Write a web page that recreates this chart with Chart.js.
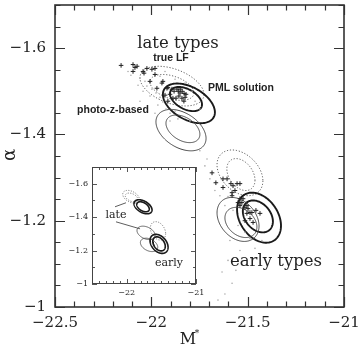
<!DOCTYPE html>
<html><head><meta charset="utf-8">
<script src="https://cdn.jsdelivr.net/npm/chart.js@4"></script>
<style>
html,body{margin:0;padding:0;background:#fff;}
#wrap{position:relative;width:360px;height:347px;overflow:hidden;}
#main{position:absolute;left:0;top:0;}
#inset{position:absolute;left:60px;top:158px;}
</style></head><body>
<div id="wrap"><canvas id="main" width="360" height="347"></canvas><canvas id="inset" width="145" height="142"></canvas></div>
<script>
// ---------- main panel: axis ticks ----------
const mainXTicks = [-22.5,-22.4,-22.3,-22.2,-22.1,-22.0,-21.9,-21.8,-21.7,-21.6,-21.5,-21.4,-21.3,-21.2,-21.1,-21.0];
const mainXLabels = [-22.5,-22,-21.5,-21];
const mainYTicks = [-1.7,-1.65,-1.6,-1.55,-1.5,-1.45,-1.4,-1.35,-1.3,-1.25,-1.2,-1.15,-1.1,-1.05,-1.0];
const mainYLabels = [-1.6,-1.4,-1.2,-1];

// ---------- main panel: contours (centre M*, centre alpha, half-extent M*, half-extent alpha, correlation) ----------
const mainEllM   = [-21.893,-21.893,-21.805,-21.820,-21.846,-21.836, -21.540,-21.535,-21.441,-21.447,-21.550,-21.535];
const mainEllA   = [-1.512,-1.509,-1.472,-1.482,-1.410,-1.413, -1.311,-1.307,-1.207,-1.210,-1.203,-1.196];
const mainEllHM  = [0.166,0.114,0.135,0.083,0.130,0.088, 0.119,0.073,0.114,0.078,0.109,0.083];
const mainEllHA  = [0.046,0.030,0.046,0.028,0.048,0.032, 0.053,0.037,0.058,0.037,0.051,0.035];
const mainEllRho = [0.42,0.42,0.45,0.45,0.4,0.4, 0.35,0.35,0.32,0.32,0.3,0.3];
const mainEllKind= ['dot','dot','bold','bold','thin','thin','dot','dot','bold','bold','thin','thin'];

// ---------- main panel: simulated-sample estimates (crosses) ----------
const lateCrossM = [-22.157,-22.095,-22.085,-22.095,-22.074,-22.043,-22.023,-21.997,-21.981,-22.007,-21.945,-21.971,-21.919,-21.903,-21.888,-22.038,-21.981,-21.940,-21.914,-21.893,-21.882,-21.867,-21.851,-21.841,-21.872,-21.831,-21.914,-21.929,-21.857,-21.820,-21.825,-21.86,-21.85,-21.84,-21.83];
const lateCrossA = [-1.560,-1.562,-1.555,-1.546,-1.558,-1.546,-1.553,-1.551,-1.553,-1.523,-1.519,-1.507,-1.507,-1.493,-1.484,-1.542,-1.539,-1.523,-1.509,-1.505,-1.500,-1.505,-1.496,-1.484,-1.484,-1.477,-1.477,-1.491,-1.489,-1.493,-1.486,-1.500,-1.505,-1.500,-1.495];
const earlyCrossM = [-21.685,-21.665,-21.628,-21.607,-21.587,-21.576,-21.555,-21.540,-21.581,-21.628,-21.566,-21.581,-21.550,-21.530,-21.514,-21.498,-21.488,-21.478,-21.457,-21.436,-21.504,-21.488,-21.472,-21.514,-21.524,-21.504,-21.540,-21.540,-21.540];
const earlyCrossA = [-1.311,-1.288,-1.297,-1.297,-1.286,-1.281,-1.286,-1.286,-1.265,-1.277,-1.270,-1.258,-1.242,-1.242,-1.230,-1.228,-1.219,-1.219,-1.224,-1.217,-1.217,-1.205,-1.196,-1.200,-1.251,-1.235,-1.251,-1.242,-1.235];

// ---------- main panel: faint photo-z sample points ----------
const dotM = [-22.121,-22.106,-22.059,-22.033,-22.023,-21.997,-21.976,-21.955,-21.940,-21.966,-21.924,-21.903,-21.877,-22.007,-22.043,-22.069,-21.955,-21.929,-21.877,-21.825,-21.789,-21.773,-21.748,-21.862,-21.799,-21.903,-22.059,-21.981,
  -21.748,-21.711,-21.722,-21.696,-21.670,-21.644,-21.602,-21.618,-21.576,-21.550,-21.514,-21.488,-21.592,-21.540,-21.462,-21.426,-21.602,-21.633,-21.581,-21.618,-21.654,-21.561];
const dotA = [-1.546,-1.537,-1.530,-1.523,-1.512,-1.505,-1.496,-1.486,-1.475,-1.468,-1.459,-1.449,-1.454,-1.489,-1.500,-1.514,-1.535,-1.546,-1.528,-1.519,-1.500,-1.477,-1.459,-1.436,-1.431,-1.431,-1.477,-1.449,
  -1.362,-1.343,-1.327,-1.297,-1.270,-1.258,-1.256,-1.235,-1.224,-1.189,-1.173,-1.159,-1.154,-1.131,-1.136,-1.154,-1.108,-1.081,-1.055,-1.030,-1.016,-1.085];

// ---------- main panel: annotations ----------
const mainLabels = ['late types','true LF','PML solution','photo-z-based','early types'];
const mainLabelM = [-21.862,-21.898,-21.535,-22.199,-21.353];
const mainLabelA = [-1.611,-1.576,-1.507,-1.456,-1.106];
const mainLabelKind = ['big','small','small','small','big'];

// ---------- inset ----------
const insetXTicks = [-22.5,-22.4,-22.3,-22.2,-22.1,-22.0,-21.9,-21.8,-21.7,-21.6,-21.5,-21.4,-21.3,-21.2,-21.1,-21.0];
const insetXLabels = [-22,-21];
const insetYTicks = [-1.7,-1.6,-1.5,-1.4,-1.3,-1.2,-1.1,-1.0];
const insetYLabels = [-1.6,-1.4,-1.2,-1];
const insetEllM   = [-21.937,-21.930,-21.764,-21.764,-21.721,-21.548,-21.677,-21.533,-21.533];
const insetEllA   = [-1.522,-1.518,-1.462,-1.462,-1.306,-1.318,-1.234,-1.240,-1.240];
const insetEllHM  = [0.12,0.09,0.13,0.09,0.13,0.11,0.125,0.13,0.09];
const insetEllHA  = [0.038,0.026,0.042,0.030,0.040,0.055,0.040,0.057,0.042];
const insetEllRho = [0.4,0.4,0.45,0.45,0.35,0.3,0.35,0.35,0.35];
const insetEllKind= ['dot','dot','bold','bold','thin','dot','thin','bold','bold'];
const insetLabels = ['late','early'];
const insetLabelM = [-22.154,-21.389];
const insetLabelA = [-1.414,-1.126];
const insetPointerM0 = [-22.168,-22.154];
const insetPointerA0 = [-1.462,-1.372];
const insetPointerM1 = [-22.010,-21.807];
const insetPointerA1 = [-1.486,-1.330];

const SERIF = '"DejaVu Serif", "Liberation Serif", serif';
const BOLD = '"Liberation Sans", Arial, sans-serif';
const fmt = v => (v < 0 ? '\u2212' : '') + String(Math.abs(v));

function ellipsePath(ctx, xs, ys, cM, cA, hM, hA, rho) {
  const phi = Math.acos(rho);
  ctx.beginPath();
  const n = 160;
  for (let i = 0; i <= n; i++) {
    const t = i / n * 2 * Math.PI;
    const px = xs.getPixelForValue(cM + hM * Math.cos(t));
    const py = ys.getPixelForValue(cA + hA * Math.cos(t - phi));
    if (i === 0) ctx.moveTo(px, py); else ctx.lineTo(px, py);
  }
  ctx.closePath();
}
function strokeKind(ctx, kind, scale) {
  ctx.setLineDash([]);
  ctx.lineCap = 'butt';
  if (kind === 'bold') { ctx.strokeStyle = '#1a1a1a'; ctx.lineWidth = 1.9 * scale; }
  else if (kind === 'thin') { ctx.strokeStyle = '#444'; ctx.lineWidth = 1.0 * scale; }
  else { ctx.strokeStyle = '#555'; ctx.lineWidth = 1.0 * scale; ctx.setLineDash([1.2 * scale, 1.8 * scale]); }
  ctx.stroke();
}
function drawTicks(ctx, ca, xs, ys, xt, xl, yt, yl, major, minor, color, lw) {
  ctx.save();
  ctx.strokeStyle = color; ctx.lineWidth = lw; ctx.setLineDash([]);
  ctx.beginPath();
  xt.forEach(v => {
    const L = xl.some(u => Math.abs(u - v) < 1e-6) ? major : minor;
    const px = Math.round(xs.getPixelForValue(v)) + 0.5;
    ctx.moveTo(px, ca.bottom); ctx.lineTo(px, ca.bottom - L);
    ctx.moveTo(px, ca.top); ctx.lineTo(px, ca.top + L);
  });
  yt.forEach(v => {
    const L = yl.some(u => Math.abs(u - v) < 1e-6) ? major : minor;
    const py = Math.round(ys.getPixelForValue(v)) + 0.5;
    ctx.moveTo(ca.left, py); ctx.lineTo(ca.left + L, py);
    ctx.moveTo(ca.right, py); ctx.lineTo(ca.right - L, py);
  });
  ctx.stroke();
  ctx.restore();
}

const mainPlugin = {
  id: 'mainDecor',
  beforeDatasetsDraw(chart) {
    const {ctx, scales: {x, y}} = chart;
    ctx.save();
    ctx.beginPath(); ctx.rect(chart.chartArea.left, chart.chartArea.top, chart.chartArea.width, chart.chartArea.height); ctx.clip();
    mainEllM.forEach((m, i) => {
      ellipsePath(ctx, x, y, m, mainEllA[i], mainEllHM[i], mainEllHA[i], mainEllRho[i]);
      strokeKind(ctx, mainEllKind[i], 1);
    });
    ctx.restore();
  },
  afterDraw(chart) {
    const {ctx, chartArea: ca, scales: {x, y}} = chart;
    ctx.save();
    drawTicks(ctx, ca, x, y, mainXTicks, mainXLabels, mainYTicks, mainYLabels, 10, 5.5, '#333', 1.2);
    ctx.strokeStyle = '#333'; ctx.lineWidth = 1.6;
    ctx.strokeRect(ca.left, ca.top, ca.width, ca.height);
    ctx.fillStyle = '#222';
    ctx.textAlign = 'center'; ctx.textBaseline = 'middle';
    mainLabels.forEach((t, i) => {
      ctx.font = mainLabelKind[i] === 'big' ? '16.5px ' + SERIF : 'bold 10.5px ' + BOLD;
      ctx.fillText(t, x.getPixelForValue(mainLabelM[i]), y.getPixelForValue(mainLabelA[i]));
    });
    // axis titles
    ctx.font = '16px ' + SERIF;
    ctx.fillText('M', 188, 340);
    ctx.font = '9px ' + SERIF;
    ctx.fillText('*', 197, 334);
    ctx.save();
    ctx.translate(10, 155); ctx.rotate(-Math.PI / 2);
    ctx.font = '18px ' + SERIF;
    ctx.fillText('\u03b1', 0, 0);
    ctx.restore();
    ctx.restore();
  }
};

new Chart(document.getElementById('main'), {
  type: 'scatter',
  data: { datasets: [
    { data: dotM.map((m, i) => ({x: m, y: dotA[i]})), pointStyle: 'circle', pointRadius: 0.8, backgroundColor: '#aaa', borderWidth: 0 },
    { data: lateCrossM.map((m, i) => ({x: m, y: lateCrossA[i]})), pointStyle: 'cross', pointRadius: 2.3, borderColor: '#222', borderWidth: 1 },
    { data: earlyCrossM.map((m, i) => ({x: m, y: earlyCrossA[i]})), pointStyle: 'cross', pointRadius: 2.3, borderColor: '#222', borderWidth: 1 }
  ]},
  options: {
    responsive: false, animation: false, events: [],
    layout: { padding: { left: 0, right: 16, top: 3, bottom: 0 } },
    plugins: { legend: { display: false }, tooltip: { enabled: false } },
    scales: {
      x: { type: 'linear', min: -22.5, max: -21,
        grid: { display: false, drawTicks: false }, border: { display: false },
        afterBuildTicks(s) { s.ticks = mainXLabels.map(v => ({value: v})); },
        afterFit(s) { s.height = 40; s.paddingLeft = 0; s.paddingRight = 0; },
        ticks: { padding: 7, autoSkip: false, maxRotation: 0, color: '#222', font: { family: SERIF, size: 15 }, callback: v => fmt(v) } },
      y: { type: 'linear', min: -1.7, max: -1, reverse: true,
        grid: { display: false, drawTicks: false }, border: { display: false },
        afterBuildTicks(s) { s.ticks = mainYLabels.map(v => ({value: v})); },
        afterFit(s) { s.width = 55; s.paddingTop = 0; s.paddingBottom = 0; },
        ticks: { padding: 9, autoSkip: false, color: '#222', font: { family: SERIF, size: 15 }, callback: v => fmt(v) } }
    }
  },
  plugins: [mainPlugin]
});

const insetPlugin = {
  id: 'insetDecor',
  beforeDraw(chart) {
    const ctx = chart.ctx; const ca = chart.chartArea;
    ctx.save(); ctx.fillStyle = '#fff';
    ctx.fillRect(ca.left - 1, ca.top - 1, ca.width + 2, ca.height + 2);
    ctx.restore();
  },
  afterDraw(chart) {
    const {ctx, chartArea: ca, scales: {x, y}} = chart;
    ctx.save();
    insetEllM.forEach((m, i) => {
      ellipsePath(ctx, x, y, m, insetEllA[i], insetEllHM[i], insetEllHA[i], insetEllRho[i]);
      strokeKind(ctx, insetEllKind[i], 0.85);
    });
    ctx.setLineDash([]); ctx.strokeStyle = '#333'; ctx.lineWidth = 0.8;
    insetPointerM0.forEach((m, i) => {
      ctx.beginPath();
      ctx.moveTo(x.getPixelForValue(m), y.getPixelForValue(insetPointerA0[i]));
      ctx.lineTo(x.getPixelForValue(insetPointerM1[i]), y.getPixelForValue(insetPointerA1[i]));
      ctx.stroke();
    });
    drawTicks(ctx, ca, x, y, insetXTicks, insetXLabels, insetYTicks, insetYLabels, 5, 3, '#444', 0.9);
    ctx.strokeStyle = '#444'; ctx.lineWidth = 1;
    ctx.strokeRect(ca.left + 0.5, ca.top + 0.5, ca.width - 1, ca.height - 1);
    ctx.fillStyle = '#222'; ctx.textAlign = 'center'; ctx.textBaseline = 'middle';
    ctx.font = '11px ' + SERIF;
    insetLabels.forEach((t, i) => ctx.fillText(t, x.getPixelForValue(insetLabelM[i]), y.getPixelForValue(insetLabelA[i])));
    ctx.restore();
  }
};

new Chart(document.getElementById('inset'), {
  type: 'scatter',
  data: { datasets: [] },
  options: {
    responsive: false, animation: false, events: [],
    layout: { padding: { left: 0, right: 9, top: 9, bottom: 0 } },
    plugins: { legend: { display: false }, tooltip: { enabled: false } },
    scales: {
      x: { type: 'linear', min: -22.5, max: -21,
        grid: { display: false, drawTicks: false }, border: { display: false },
        afterBuildTicks(s) { s.ticks = insetXLabels.map(v => ({value: v})); },
        afterFit(s) { s.height = 16; s.paddingLeft = 0; s.paddingRight = 0; },
        ticks: { padding: 4, autoSkip: false, maxRotation: 0, color: '#222', font: { family: SERIF, size: 8 }, callback: v => fmt(v) } },
      y: { type: 'linear', min: -1.7, max: -1, reverse: true,
        grid: { display: false, drawTicks: false }, border: { display: false },
        afterBuildTicks(s) { s.ticks = insetYLabels.map(v => ({value: v})); },
        afterFit(s) { s.width = 32; s.paddingTop = 0; s.paddingBottom = 0; },
        ticks: { padding: 4, autoSkip: false, color: '#222', font: { family: SERIF, size: 8 }, callback: v => fmt(v) } }
    }
  },
  plugins: [insetPlugin]
});
</script>
</body></html>
